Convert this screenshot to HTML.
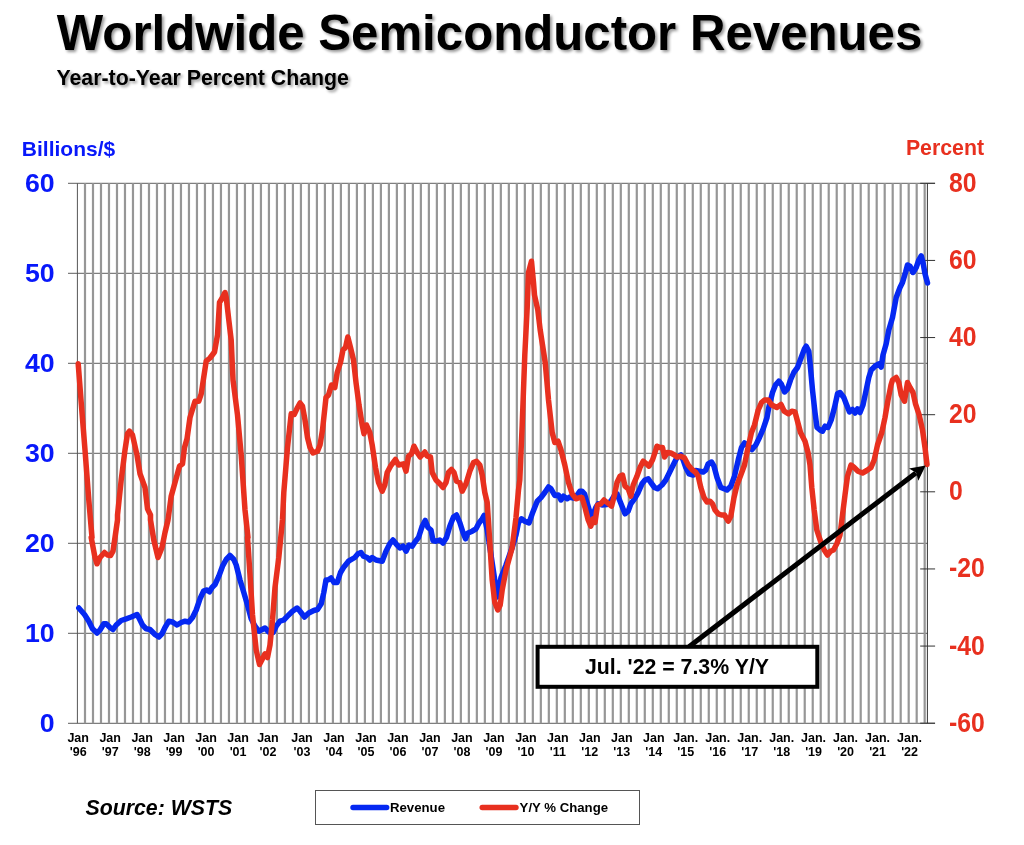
<!DOCTYPE html>
<html lang="en"><head><meta charset="utf-8"><title>Worldwide Semiconductor Revenues</title>
<style>html,body{margin:0;padding:0;background:#fff}svg{display:block}text{font-family:"Liberation Sans",Arial,sans-serif;font-weight:bold}</style></head><body>
<svg width="1024" height="845" viewBox="0 0 1024 845">
<defs><filter id="sh" x="-5%" y="-20%" width="110%" height="150%"><feGaussianBlur in="SourceAlpha" stdDeviation="1.5"/><feOffset dx="1.7" dy="1.7"/><feComponentTransfer><feFuncA type="linear" slope="0.42"/></feComponentTransfer><feMerge><feMergeNode/><feMergeNode in="SourceGraphic"/></feMerge></filter></defs>
<rect width="1024" height="845" fill="#fff"/>
<g filter="url(#sh)">
<text x="56.8" y="50" font-size="49.2" fill="#000">Worldwide Semiconductor Revenues</text>
<text x="56.5" y="84.7" font-size="21.3" fill="#000">Year-to-Year Percent Change</text>
</g>
<g stroke="#7e7e7e" stroke-width="1.2">
<line x1="68" y1="183.30" x2="935" y2="183.30"/>
<line x1="68" y1="273.30" x2="927.4" y2="273.30"/>
<line x1="68" y1="363.30" x2="927.4" y2="363.30"/>
<line x1="68" y1="453.30" x2="927.4" y2="453.30"/>
<line x1="68" y1="543.30" x2="927.4" y2="543.30"/>
<line x1="68" y1="633.30" x2="927.4" y2="633.30"/>
<line x1="68" y1="723.30" x2="935" y2="723.30"/>
</g>
<g stroke="#969696" stroke-width="2.2">
<line x1="85.00" y1="183.3" x2="85.00" y2="723.2"/>
<line x1="93.00" y1="183.3" x2="93.00" y2="723.2"/>
<line x1="100.99" y1="183.3" x2="100.99" y2="723.2"/>
<line x1="108.99" y1="183.3" x2="108.99" y2="723.2"/>
<line x1="116.99" y1="183.3" x2="116.99" y2="723.2"/>
<line x1="124.98" y1="183.3" x2="124.98" y2="723.2"/>
<line x1="132.98" y1="183.3" x2="132.98" y2="723.2"/>
<line x1="140.98" y1="183.3" x2="140.98" y2="723.2"/>
<line x1="148.98" y1="183.3" x2="148.98" y2="723.2"/>
<line x1="156.97" y1="183.3" x2="156.97" y2="723.2"/>
<line x1="164.97" y1="183.3" x2="164.97" y2="723.2"/>
<line x1="172.97" y1="183.3" x2="172.97" y2="723.2"/>
<line x1="180.96" y1="183.3" x2="180.96" y2="723.2"/>
<line x1="188.96" y1="183.3" x2="188.96" y2="723.2"/>
<line x1="196.96" y1="183.3" x2="196.96" y2="723.2"/>
<line x1="204.95" y1="183.3" x2="204.95" y2="723.2"/>
<line x1="212.95" y1="183.3" x2="212.95" y2="723.2"/>
<line x1="220.95" y1="183.3" x2="220.95" y2="723.2"/>
<line x1="228.95" y1="183.3" x2="228.95" y2="723.2"/>
<line x1="236.94" y1="183.3" x2="236.94" y2="723.2"/>
<line x1="244.94" y1="183.3" x2="244.94" y2="723.2"/>
<line x1="252.94" y1="183.3" x2="252.94" y2="723.2"/>
<line x1="260.93" y1="183.3" x2="260.93" y2="723.2"/>
<line x1="268.93" y1="183.3" x2="268.93" y2="723.2"/>
<line x1="276.93" y1="183.3" x2="276.93" y2="723.2"/>
<line x1="284.93" y1="183.3" x2="284.93" y2="723.2"/>
<line x1="292.92" y1="183.3" x2="292.92" y2="723.2"/>
<line x1="300.92" y1="183.3" x2="300.92" y2="723.2"/>
<line x1="308.92" y1="183.3" x2="308.92" y2="723.2"/>
<line x1="316.91" y1="183.3" x2="316.91" y2="723.2"/>
<line x1="324.91" y1="183.3" x2="324.91" y2="723.2"/>
<line x1="332.91" y1="183.3" x2="332.91" y2="723.2"/>
<line x1="340.90" y1="183.3" x2="340.90" y2="723.2"/>
<line x1="348.90" y1="183.3" x2="348.90" y2="723.2"/>
<line x1="356.90" y1="183.3" x2="356.90" y2="723.2"/>
<line x1="364.89" y1="183.3" x2="364.89" y2="723.2"/>
<line x1="372.89" y1="183.3" x2="372.89" y2="723.2"/>
<line x1="380.89" y1="183.3" x2="380.89" y2="723.2"/>
<line x1="388.89" y1="183.3" x2="388.89" y2="723.2"/>
<line x1="396.88" y1="183.3" x2="396.88" y2="723.2"/>
<line x1="404.88" y1="183.3" x2="404.88" y2="723.2"/>
<line x1="412.88" y1="183.3" x2="412.88" y2="723.2"/>
<line x1="420.87" y1="183.3" x2="420.87" y2="723.2"/>
<line x1="428.87" y1="183.3" x2="428.87" y2="723.2"/>
<line x1="436.87" y1="183.3" x2="436.87" y2="723.2"/>
<line x1="444.87" y1="183.3" x2="444.87" y2="723.2"/>
<line x1="452.86" y1="183.3" x2="452.86" y2="723.2"/>
<line x1="460.86" y1="183.3" x2="460.86" y2="723.2"/>
<line x1="468.86" y1="183.3" x2="468.86" y2="723.2"/>
<line x1="476.85" y1="183.3" x2="476.85" y2="723.2"/>
<line x1="484.85" y1="183.3" x2="484.85" y2="723.2"/>
<line x1="492.85" y1="183.3" x2="492.85" y2="723.2"/>
<line x1="500.84" y1="183.3" x2="500.84" y2="723.2"/>
<line x1="508.84" y1="183.3" x2="508.84" y2="723.2"/>
<line x1="516.84" y1="183.3" x2="516.84" y2="723.2"/>
<line x1="524.84" y1="183.3" x2="524.84" y2="723.2"/>
<line x1="532.83" y1="183.3" x2="532.83" y2="723.2"/>
<line x1="540.83" y1="183.3" x2="540.83" y2="723.2"/>
<line x1="548.83" y1="183.3" x2="548.83" y2="723.2"/>
<line x1="556.82" y1="183.3" x2="556.82" y2="723.2"/>
<line x1="564.82" y1="183.3" x2="564.82" y2="723.2"/>
<line x1="572.82" y1="183.3" x2="572.82" y2="723.2"/>
<line x1="580.81" y1="183.3" x2="580.81" y2="723.2"/>
<line x1="588.81" y1="183.3" x2="588.81" y2="723.2"/>
<line x1="596.81" y1="183.3" x2="596.81" y2="723.2"/>
<line x1="604.80" y1="183.3" x2="604.80" y2="723.2"/>
<line x1="612.80" y1="183.3" x2="612.80" y2="723.2"/>
<line x1="620.80" y1="183.3" x2="620.80" y2="723.2"/>
<line x1="628.80" y1="183.3" x2="628.80" y2="723.2"/>
<line x1="636.79" y1="183.3" x2="636.79" y2="723.2"/>
<line x1="644.79" y1="183.3" x2="644.79" y2="723.2"/>
<line x1="652.79" y1="183.3" x2="652.79" y2="723.2"/>
<line x1="660.78" y1="183.3" x2="660.78" y2="723.2"/>
<line x1="668.78" y1="183.3" x2="668.78" y2="723.2"/>
<line x1="676.78" y1="183.3" x2="676.78" y2="723.2"/>
<line x1="684.77" y1="183.3" x2="684.77" y2="723.2"/>
<line x1="692.77" y1="183.3" x2="692.77" y2="723.2"/>
<line x1="700.77" y1="183.3" x2="700.77" y2="723.2"/>
<line x1="708.77" y1="183.3" x2="708.77" y2="723.2"/>
<line x1="716.76" y1="183.3" x2="716.76" y2="723.2"/>
<line x1="724.76" y1="183.3" x2="724.76" y2="723.2"/>
<line x1="732.76" y1="183.3" x2="732.76" y2="723.2"/>
<line x1="740.75" y1="183.3" x2="740.75" y2="723.2"/>
<line x1="748.75" y1="183.3" x2="748.75" y2="723.2"/>
<line x1="756.75" y1="183.3" x2="756.75" y2="723.2"/>
<line x1="764.75" y1="183.3" x2="764.75" y2="723.2"/>
<line x1="772.74" y1="183.3" x2="772.74" y2="723.2"/>
<line x1="780.74" y1="183.3" x2="780.74" y2="723.2"/>
<line x1="788.74" y1="183.3" x2="788.74" y2="723.2"/>
<line x1="796.73" y1="183.3" x2="796.73" y2="723.2"/>
<line x1="804.73" y1="183.3" x2="804.73" y2="723.2"/>
<line x1="812.73" y1="183.3" x2="812.73" y2="723.2"/>
<line x1="820.72" y1="183.3" x2="820.72" y2="723.2"/>
<line x1="828.72" y1="183.3" x2="828.72" y2="723.2"/>
<line x1="836.72" y1="183.3" x2="836.72" y2="723.2"/>
<line x1="844.72" y1="183.3" x2="844.72" y2="723.2"/>
<line x1="852.71" y1="183.3" x2="852.71" y2="723.2"/>
<line x1="860.71" y1="183.3" x2="860.71" y2="723.2"/>
<line x1="868.71" y1="183.3" x2="868.71" y2="723.2"/>
<line x1="876.70" y1="183.3" x2="876.70" y2="723.2"/>
<line x1="884.70" y1="183.3" x2="884.70" y2="723.2"/>
<line x1="892.70" y1="183.3" x2="892.70" y2="723.2"/>
<line x1="900.69" y1="183.3" x2="900.69" y2="723.2"/>
<line x1="908.69" y1="183.3" x2="908.69" y2="723.2"/>
<line x1="916.69" y1="183.3" x2="916.69" y2="723.2"/>
<line x1="924.68" y1="183.3" x2="924.68" y2="723.2"/>
</g>
<line x1="77.4" y1="183.3" x2="77.4" y2="723.2" stroke="#555" stroke-width="1"/>
<line x1="927.4" y1="183.3" x2="927.4" y2="723.2" stroke="#333" stroke-width="1"/>
<g stroke="#333" stroke-width="1">
<line x1="920.2" y1="183.30" x2="935.1" y2="183.30"/>
<line x1="920.2" y1="260.43" x2="935.1" y2="260.43"/>
<line x1="920.2" y1="337.56" x2="935.1" y2="337.56"/>
<line x1="920.2" y1="414.69" x2="935.1" y2="414.69"/>
<line x1="920.2" y1="491.81" x2="935.1" y2="491.81"/>
<line x1="920.2" y1="568.94" x2="935.1" y2="568.94"/>
<line x1="920.2" y1="646.07" x2="935.1" y2="646.07"/>
<line x1="920.2" y1="723.20" x2="935.1" y2="723.20"/>
</g>
<text x="21.8" y="156" font-size="21" fill="#0818fa">Billions/$</text>
<text x="905.9" y="154.9" font-size="21.3" fill="#e8301f">Percent</text>
<g font-size="25.7" fill="#0818fa" text-anchor="end">
<text transform="translate(54.6,192.0) scale(1.04,1)">60</text>
<text transform="translate(54.6,282.0) scale(1.04,1)">50</text>
<text transform="translate(54.6,372.0) scale(1.04,1)">40</text>
<text transform="translate(54.6,462.0) scale(1.04,1)">30</text>
<text transform="translate(54.6,552.0) scale(1.04,1)">20</text>
<text transform="translate(54.6,642.0) scale(1.04,1)">10</text>
<text transform="translate(54.6,732.0) scale(1.04,1)">0</text>
</g>
<g font-size="27.2" fill="#e8301f">
<text transform="translate(948.9,191.7) scale(0.912,1)">80</text>
<text transform="translate(948.9,268.8) scale(0.912,1)">60</text>
<text transform="translate(948.9,346.0) scale(0.912,1)">40</text>
<text transform="translate(948.9,423.1) scale(0.912,1)">20</text>
<text transform="translate(948.9,500.2) scale(0.912,1)">0</text>
<text transform="translate(948.9,577.3) scale(0.912,1)">-20</text>
<text transform="translate(948.9,654.5) scale(0.912,1)">-40</text>
<text transform="translate(948.9,731.6) scale(0.912,1)">-60</text>
</g>
<g font-size="12.5" fill="#000" text-anchor="middle">
<text x="78.2" y="742">Jan</text><text x="78.2" y="756">&#39;96</text>
<text x="110.2" y="742">Jan</text><text x="110.2" y="756">&#39;97</text>
<text x="142.2" y="742">Jan</text><text x="142.2" y="756">&#39;98</text>
<text x="174.1" y="742">Jan</text><text x="174.1" y="756">&#39;99</text>
<text x="206.1" y="742">Jan</text><text x="206.1" y="756">&#39;00</text>
<text x="238.1" y="742">Jan</text><text x="238.1" y="756">&#39;01</text>
<text x="267.9" y="742">Jan</text><text x="267.9" y="756">&#39;02</text>
<text x="302.0" y="742">Jan</text><text x="302.0" y="756">&#39;03</text>
<text x="334.0" y="742">Jan</text><text x="334.0" y="756">&#39;04</text>
<text x="366.0" y="742">Jan</text><text x="366.0" y="756">&#39;05</text>
<text x="397.9" y="742">Jan</text><text x="397.9" y="756">&#39;06</text>
<text x="429.9" y="742">Jan</text><text x="429.9" y="756">&#39;07</text>
<text x="461.9" y="742">Jan</text><text x="461.9" y="756">&#39;08</text>
<text x="493.9" y="742">Jan</text><text x="493.9" y="756">&#39;09</text>
<text x="525.9" y="742">Jan</text><text x="525.9" y="756">&#39;10</text>
<text x="557.8" y="742">Jan</text><text x="557.8" y="756">&#39;11</text>
<text x="589.8" y="742">Jan</text><text x="589.8" y="756">&#39;12</text>
<text x="621.8" y="742">Jan</text><text x="621.8" y="756">&#39;13</text>
<text x="653.8" y="742">Jan</text><text x="653.8" y="756">&#39;14</text>
<text x="685.7" y="742">Jan.</text><text x="685.7" y="756">&#39;15</text>
<text x="717.7" y="742">Jan.</text><text x="717.7" y="756">&#39;16</text>
<text x="749.7" y="742">Jan.</text><text x="749.7" y="756">&#39;17</text>
<text x="781.7" y="742">Jan.</text><text x="781.7" y="756">&#39;18</text>
<text x="813.6" y="742">Jan.</text><text x="813.6" y="756">&#39;19</text>
<text x="845.6" y="742">Jan.</text><text x="845.6" y="756">&#39;20</text>
<text x="877.6" y="742">Jan.</text><text x="877.6" y="756">&#39;21</text>
<text x="909.6" y="742">Jan.</text><text x="909.6" y="756">&#39;22</text>
</g>
<polyline points="78.8,608.0 84.5,614.5 88.8,621.2 92.5,628.8 97.0,633.0 100.0,630.0 103.8,623.8 106.2,623.8 110.0,627.5 113.0,629.5 116.2,625.0 121.2,620.5 126.2,618.8 131.2,617.0 137.0,614.5 138.8,617.5 142.5,625.0 146.2,628.8 150.0,629.5 155.0,634.5 158.8,637.0 162.0,633.8 165.0,627.5 168.8,621.2 172.5,622.0 177.0,625.0 181.2,622.5 185.0,621.2 188.8,622.0 192.5,617.5 196.2,610.0 200.0,598.8 203.8,590.8 207.0,590.0 209.5,591.8 212.0,587.5 215.0,584.5 218.8,576.2 222.5,566.2 226.2,559.5 230.0,555.5 233.8,559.5 236.2,565.0 240.0,580.0 243.8,592.5 247.5,605.0 251.2,618.8 255.0,626.2 258.8,631.2 261.2,630.0 265.0,628.0 268.8,632.0 273.0,632.5 276.2,626.2 280.0,621.2 283.8,620.0 287.5,616.2 292.5,611.2 297.0,608.0 300.0,611.2 304.5,617.0 308.8,613.0 313.8,610.5 317.5,609.5 321.2,603.8 323.8,592.5 326.0,580.0 328.0,580.0 331.0,578.0 334.0,582.5 337.2,582.5 340.5,572.5 343.5,567.5 348.5,561.2 354.8,557.5 358.0,553.8 361.0,552.5 363.5,556.2 367.2,557.5 369.8,560.0 372.2,557.5 376.0,560.0 382.2,561.2 386.0,551.2 389.8,543.8 393.0,540.0 396.0,543.8 399.8,548.0 403.0,546.2 406.0,551.2 409.0,545.0 412.2,546.2 415.5,541.2 418.5,537.5 422.2,526.2 425.2,520.5 428.0,527.5 431.0,530.0 433.0,540.5 436.0,541.2 439.8,540.0 443.0,543.0 446.5,537.5 449.8,526.2 453.5,517.0 456.5,515.0 459.8,522.5 463.0,532.5 465.5,538.8 468.0,533.0 472.2,531.2 476.0,528.8 479.0,523.0 482.2,518.8 484.0,515.5 487.2,530.0 491.0,555.0 494.0,575.0 497.2,597.0 501.0,577.5 506.0,565.0 512.2,547.5 516.0,535.0 518.5,522.5 521.5,518.8 524.8,521.2 529.0,523.0 532.2,513.8 537.2,501.2 541.0,497.5 544.8,492.5 548.5,487.0 551.0,488.8 554.8,495.5 558.5,495.0 561.0,500.0 563.5,496.2 567.2,498.8 569.8,497.0 573.5,498.0 577.2,495.0 579.8,491.2 582.0,491.2 584.5,493.8 587.0,502.5 590.0,512.5 592.5,516.2 595.8,507.5 598.2,503.8 602.0,505.0 607.0,504.5 610.8,501.2 614.0,496.2 617.0,493.8 619.5,500.0 622.0,506.2 625.0,513.8 628.2,511.2 630.8,503.8 634.5,498.8 638.2,492.5 642.0,483.8 645.0,480.0 648.2,478.8 650.8,482.5 654.5,487.5 657.5,488.8 662.0,485.0 665.8,480.0 669.5,472.5 673.2,465.0 677.0,457.5 680.8,455.0 683.2,460.0 685.8,467.5 689.0,473.8 693.2,475.0 695.8,470.5 699.5,471.2 703.2,472.0 705.8,470.0 708.2,463.8 711.5,462.0 714.0,466.2 717.0,477.5 720.8,487.5 724.5,488.8 727.0,490.0 730.8,486.2 734.5,476.2 738.2,460.0 741.5,447.5 744.5,443.0 748.2,445.5 752.0,449.5 755.8,445.0 759.5,437.5 763.2,428.8 767.0,417.5 768.8,407.5 772.5,392.5 775.5,385.0 778.8,381.2 781.2,383.8 784.5,392.0 787.5,388.8 790.5,380.0 793.8,372.5 797.5,367.5 801.2,357.5 804.5,348.8 806.2,346.2 808.8,351.2 810.0,362.5 812.5,390.0 815.0,412.5 817.0,427.5 820.0,430.0 822.5,431.2 825.0,426.2 828.0,427.5 831.2,420.0 834.5,407.5 837.5,393.8 840.0,392.5 843.8,397.5 846.2,403.8 849.5,412.0 852.5,409.5 855.0,413.0 857.5,408.8 860.0,412.5 863.0,405.0 866.2,390.0 868.8,377.5 871.2,370.0 875.0,366.2 878.8,363.8 881.2,367.0 883.0,355.0 886.2,343.8 888.8,330.0 892.5,317.5 896.2,297.5 900.0,287.5 902.5,282.5 905.5,272.5 907.5,265.0 910.0,266.2 913.0,272.5 916.2,267.5 918.8,260.0 921.2,255.8 923.0,262.5 925.0,273.8 927.5,283.0" fill="none" stroke="#0528f2" stroke-width="5.5" stroke-linejoin="round" stroke-linecap="round"/>
<polyline points="78.2,363.8 81.2,402.5 85.0,450.0 88.8,500.0 92.0,537.5 91.2,537.5 95.0,557.5 97.0,563.8 100.0,557.5 104.5,552.5 107.5,555.0 110.5,555.5 113.0,551.2 115.0,537.5 117.5,520.0 117.5,515.0 121.2,480.0 125.0,450.0 127.5,433.8 129.5,431.2 132.5,435.0 137.0,455.0 140.0,473.8 145.0,487.5 147.5,508.8 150.5,515.0 150.5,520.0 153.8,540.0 158.0,557.5 162.0,547.5 165.0,532.5 168.0,520.0 171.2,496.2 175.0,482.5 179.5,466.2 182.5,463.8 184.5,447.5 187.0,438.8 190.0,417.5 195.0,401.2 198.8,401.2 201.2,393.8 206.2,361.2 210.0,358.0 214.5,352.0 217.5,335.0 219.5,302.5 222.5,297.5 225.0,292.5 226.2,297.5 228.8,320.0 231.2,340.0 233.0,380.0 237.5,415.0 241.2,455.0 245.0,510.0 248.0,537.5 247.5,537.5 250.0,575.0 252.5,615.0 256.2,650.0 259.5,664.5 262.5,658.8 265.0,653.8 267.5,657.5 270.0,645.0 272.5,620.0 275.0,587.5 278.8,557.5 282.5,520.0 283.8,492.5 287.5,447.5 291.2,413.8 294.2,414.5 297.5,407.5 300.0,403.0 302.5,406.2 305.0,420.0 307.5,437.5 310.0,447.5 313.0,453.0 317.5,451.2 320.0,445.0 322.5,430.0 326.0,397.5 328.5,395.0 331.5,385.0 334.8,387.5 337.2,372.5 340.5,362.5 343.0,350.0 345.5,347.5 347.8,337.0 350.5,347.5 353.5,360.0 356.0,382.5 359.0,405.0 362.2,425.0 364.0,433.8 366.5,425.0 369.8,432.5 372.2,445.0 375.5,467.5 378.5,482.5 382.2,491.2 384.8,485.0 387.2,472.5 390.5,466.2 395.5,459.5 398.5,465.0 403.5,463.8 406.0,471.2 408.5,456.2 411.5,453.8 414.0,446.2 417.2,452.5 420.2,457.0 424.8,452.0 427.2,456.2 430.5,457.0 432.2,472.5 436.0,480.0 439.8,483.8 443.0,487.5 446.0,482.5 448.5,472.5 451.5,469.5 454.0,472.5 456.5,481.2 459.8,482.5 462.2,491.2 466.0,483.8 469.8,471.2 473.5,462.5 476.5,461.2 479.8,465.0 482.2,475.0 484.8,492.5 487.2,502.5 489.8,542.5 492.2,580.0 494.8,602.5 497.8,610.0 500.2,605.0 502.2,590.0 506.0,570.0 512.2,547.5 516.0,517.5 518.5,490.0 519.8,480.0 522.2,425.0 524.8,355.0 527.2,307.5 528.5,272.5 531.5,261.2 533.5,282.5 534.5,295.0 537.8,310.0 540.2,330.0 545.2,362.5 547.0,382.5 548.5,400.0 552.2,432.5 554.8,442.5 558.0,441.2 561.0,450.0 564.8,465.0 568.5,482.5 572.2,493.8 576.0,498.8 579.8,497.5 582.0,497.5 585.0,507.5 588.2,520.0 590.8,526.2 593.2,518.8 595.0,522.5 597.5,505.0 600.8,503.8 604.0,500.0 607.0,502.5 611.5,506.2 614.5,495.0 617.0,482.5 620.0,476.2 622.5,475.0 625.0,486.2 628.2,488.8 630.8,496.2 633.2,485.0 637.0,476.2 640.0,467.5 643.2,461.2 646.5,463.8 649.0,466.2 652.5,460.0 655.0,452.5 657.0,446.2 660.0,447.5 662.5,447.5 664.5,457.0 667.5,452.5 670.8,453.0 674.5,455.0 677.0,457.0 680.8,456.2 684.5,458.0 688.2,465.0 692.0,469.5 695.8,472.5 698.2,476.2 700.8,487.5 704.0,497.5 707.0,502.0 710.0,501.2 712.5,503.8 715.0,510.0 718.2,513.8 721.5,515.0 724.5,515.0 728.2,521.2 730.8,516.2 734.0,497.5 737.0,485.0 740.8,475.0 744.5,465.0 747.5,450.0 751.5,432.5 754.5,425.0 758.2,410.0 761.5,402.5 764.5,400.0 768.0,400.0 771.8,405.0 776.8,407.5 781.0,404.5 784.2,411.2 788.5,413.8 791.8,411.2 795.0,412.0 797.5,421.2 800.5,432.5 805.0,441.2 808.0,452.5 810.0,465.0 811.8,487.5 814.2,510.0 816.8,530.0 820.5,541.2 824.2,550.0 827.5,555.0 830.5,551.2 833.5,550.0 836.8,543.8 840.0,535.0 842.5,515.0 845.0,495.0 847.5,476.2 851.0,465.0 854.2,467.5 858.0,471.2 862.5,473.0 866.8,470.5 871.0,467.5 874.2,460.0 877.5,445.0 881.8,432.5 885.0,417.5 888.0,400.0 891.0,385.0 892.5,380.0 896.2,377.5 898.8,382.5 901.2,395.0 904.5,401.2 907.5,382.5 910.0,387.5 913.0,392.5 915.5,403.8 919.2,415.0 922.5,430.0 925.0,447.5 927.0,464.5" fill="none" stroke="#e8301f" stroke-width="5.5" stroke-linejoin="round" stroke-linecap="round"/>
<line x1="689.0" y1="646.7" x2="915.8" y2="473.0" stroke="#000" stroke-width="5"/>
<polygon points="925.7,465.4 909.0,468.6 916.2,472.7 918.3,480.7" fill="#000"/>
<rect x="537.6" y="646.8" width="279.7" height="40" fill="#fff" stroke="#000" stroke-width="4"/>
<text x="677" y="674.4" font-size="21.3" fill="#000" text-anchor="middle">Jul. &#39;22 = 7.3% Y/Y</text>
<text x="85.5" y="815" font-size="21.3" fill="#000" font-style="italic">Source: WSTS</text>
<rect x="315.5" y="790.5" width="324" height="34" fill="#fff" stroke="#555" stroke-width="1"/>
<line x1="353" y1="807.5" x2="386.7" y2="807.5" stroke="#0528f2" stroke-width="5.4" stroke-linecap="round"/>
<text x="390" y="811.8" font-size="13.2" fill="#000">Revenue</text>
<line x1="482.2" y1="807.5" x2="516" y2="807.5" stroke="#e8301f" stroke-width="5.4" stroke-linecap="round"/>
<text x="519.6" y="811.8" font-size="13.2" fill="#000">Y/Y % Change</text>
</svg></body></html>
